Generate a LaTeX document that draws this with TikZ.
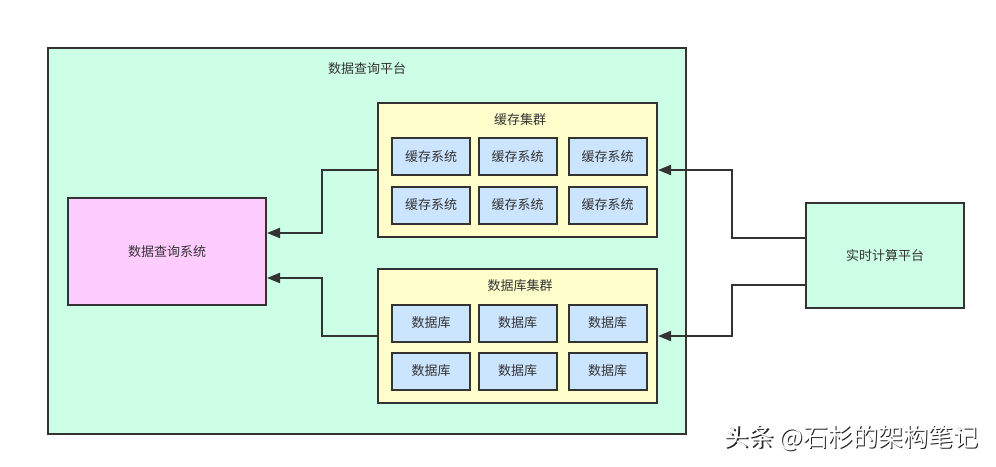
\documentclass[tikz,border=0pt]{standalone}
\usepackage{fontspec}
\newfontfamily\cjk{Noto Sans CJK SC}
\usetikzlibrary{arrows.meta}
\definecolor{lc}{HTML}{333333}
\definecolor{platfill}{HTML}{CCFFE6}
\definecolor{clusterfill}{HTML}{FFFFCC}
\definecolor{itemfill}{HTML}{CCE5FF}
\definecolor{queryfill}{HTML}{FFCCFF}
\tikzset{
  box/.style={draw=lc, line width=2pt, inner sep=0pt, outer sep=0pt, font=\cjk\fontsize{13}{15}\selectfont, text=lc},
  plat/.style={box, fill=platfill},
  cluster/.style={box, fill=clusterfill, minimum width=279pt, minimum height=134pt},
  item/.style={box, fill=itemfill, minimum width=78pt, minimum height=37pt},
  title/.style={font=\cjk\fontsize{13}{15}\selectfont, text=lc, inner sep=0pt},
  conn/.style={draw=lc, line width=2pt},
  arr/.style={conn, -{Triangle[length=13pt,width=10pt]}},
  wmark/.style={font=\cjk\fontsize{25}{28}\selectfont, inner sep=0pt},
}
\begin{document}
\begin{tikzpicture}[x=1pt,y=-1pt]
\useasboundingbox (0,0) rectangle (996,466);
\fill[white] (0,0) rectangle (996,466);
% outer platform
\node[plat, minimum width=638pt, minimum height=386pt] (platform) at (367,241) {};
\node[title] (ptitle) at (367,69) {数据查询平台};
% clusters
\node[cluster] (cache) at (517.5,170) {};
\node[title] (ctitle) at (520,120) {缓存集群};
\node[cluster] (db) at (517.5,336) {};
\node[title] (dtitle) at (520,286) {数据库集群};
% cache items
\node[item] (c1) at (431,156.5) {缓存系统};
\node[item] (c2) at (517.5,156.5) {缓存系统};
\node[item] (c3) at (607.5,156.5) {缓存系统};
\node[item] (c4) at (431,205) {缓存系统};
\node[item] (c5) at (517.5,205) {缓存系统};
\node[item] (c6) at (607.5,205) {缓存系统};
% db items
\node[item] (d1) at (431,323) {数据库};
\node[item] (d2) at (517.5,323) {数据库};
\node[item] (d3) at (607.5,323) {数据库};
\node[item] (d4) at (431,371) {数据库};
\node[item] (d5) at (517.5,371) {数据库};
\node[item] (d6) at (607.5,371) {数据库};
% query system
\node[box, fill=queryfill, minimum width=198pt, minimum height=107pt] (query) at (167,251.5) {数据查询系统};
% realtime
\node[plat, minimum width=158pt, minimum height=105pt] (rt) at (885,255.5) {实时计算平台};
% connector coordinates
\coordinate (q1) at (267,233);
\coordinate (q2) at (267,278);
\coordinate (r1) at (806,238);
\coordinate (r2) at (806,285);
\coordinate (ce) at (658,170);
\coordinate (de) at (658,336);
% connectors
\draw[arr] (cache.west) -- (322,170) |- (q1);
\draw[arr] (db.west) -- (322,336) |- (q2);
\draw[arr] (r1) -- (732,238) |- (ce);
\draw[arr] (r2) -- (732,285) |- (de);
% watermark
\node[wmark, text=black!85] (wm0) at (852.5,439.5) {头条 @石杉的架构笔记};
\node[wmark, text=white] (wm) at (851,438) {头条 @石杉的架构笔记};
\end{tikzpicture}
\end{document}
